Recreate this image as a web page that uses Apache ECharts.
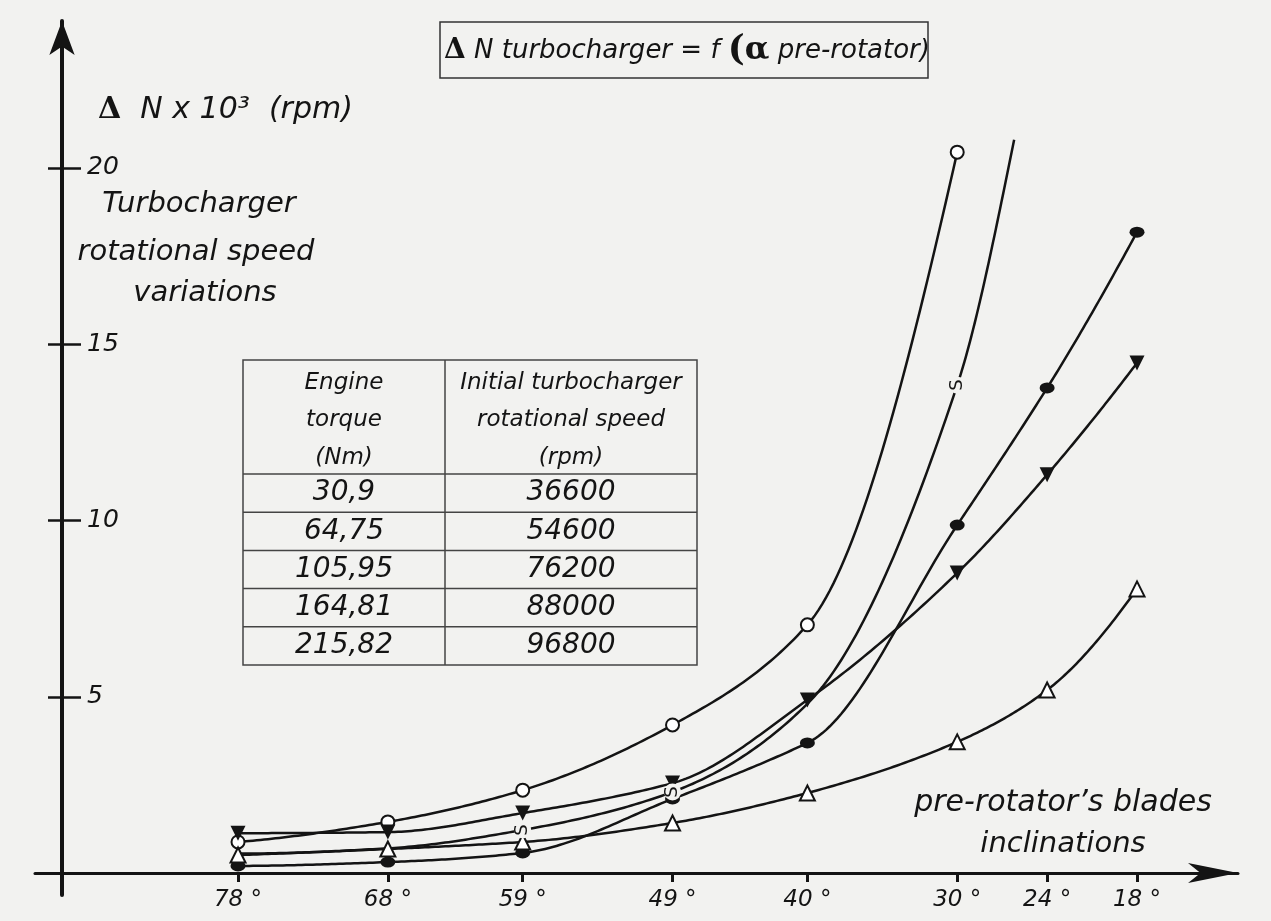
<!DOCTYPE html>
<html><head><meta charset="utf-8">
<script src="https://cdn.jsdelivr.net/npm/echarts@6/dist/echarts.min.js"></script>
<style>html,body{margin:0;padding:0;background:#f2f2f0}#c{width:1271px;height:921px}</style>
</head><body><div id="c"></div>
<script>
// ---- data ----
const angles = [78, 68, 59, 49, 40, 30, 24, 18];
const tickLabels = ['78 °', '68 °', '59 °', '49 °', '40 °', '30 °', '24 °', '18 °'];
const yTicks = [5, 10, 15, 20];
const openCircle = [0.88, 1.45, 2.35, 4.2, 7.04, 20.45, null, null];
const filledTriangle = [1.13, 1.16, 1.70, 2.55, 4.91, 8.51, 11.3, 14.47];
const filledCircle = [0.2, 0.31, 0.57, 2.1, 3.69, 9.87, 13.76, 18.18];
const openTriangle = [0.51, 0.68, 0.88, 1.42, 2.27, 3.72, 5.19, 8.06];
const sAngles = [78, 68, 59, 49, 40, 30, 26.2];
const sValues = [0.55, 0.7, 1.22, 2.3, 4.8, 13.84, 20.8];
const sMarked = [false, false, true, true, false, true, false];
const headerTorque = ['Engine', 'torque', '(Nm)'];
const headerSpeed = ['Initial turbocharger', 'rotational speed', '(rpm)'];
const torque = ['30,9', '64,75', '105,95', '164,81', '215,82'];
const initialSpeed = ['36600', '54600', '76200', '88000', '96800'];

// ---- styling ----
const BG = '#f2f2f0';
const INK = '#141414';
const FONT = 'DejaVu Sans';

function pairs(xs, ys) {
  const out = [];
  xs.forEach((x, i) => { if (ys[i] != null) out.push([x, ys[i]]); });
  return out;
}

// shape-preserving (PCHIP) cubic curve through pixel points, x monotone
function smoothPath(pts) {
  const n = pts.length;
  if (n < 2) return pts;
  const h = [], s = [];
  for (let i = 0; i < n - 1; i++) {
    h.push(pts[i + 1][0] - pts[i][0]);
    s.push((pts[i + 1][1] - pts[i][1]) / h[i]);
  }
  const m = new Array(n);
  for (let i = 1; i < n - 1; i++) {
    if (s[i - 1] * s[i] <= 0) { m[i] = 0; continue; }
    const w1 = 2 * h[i] + h[i - 1], w2 = h[i] + 2 * h[i - 1];
    m[i] = (w1 + w2) / (w1 / s[i - 1] + w2 / s[i]);
  }
  function endSlope(h0, h1, s0, s1) {
    let d = ((2 * h0 + h1) * s0 - h0 * s1) / (h0 + h1);
    if (d * s0 <= 0) d = 0;
    else if (s0 * s1 <= 0 && Math.abs(d) > 3 * Math.abs(s0)) d = 3 * s0;
    return d;
  }
  if (n === 2) { m[0] = s[0]; m[1] = s[0]; }
  else {
    m[0] = endSlope(h[0], h[1], s[0], s[1]);
    m[n - 1] = endSlope(h[n - 2], h[n - 3], s[n - 2], s[n - 3]);
  }
  // keep each piece free of spurious inflections
  for (let pass = 0; pass < 3; pass++) {
    for (let i = 0; i < n - 1; i++) {
      if (s[i] === 0) continue;
      let a = m[i] / s[i], b = m[i + 1] / s[i];
      if (a < 1 && b > 1 && 2 * a + b > 3) { b = 3 - 2 * a; m[i + 1] = b * s[i]; }
      if (a > 1 && b < 1 && a + 2 * b > 3) { a = 3 - 2 * b; m[i] = a * s[i]; }
    }
  }
  const out = [pts[0]];
  for (let i = 0; i < n - 1; i++) {
    const x0 = pts[i][0], y0 = pts[i][1], y1 = pts[i + 1][1];
    const N = 40;
    for (let j = 1; j <= N; j++) {
      const t = j / N, t2 = t * t, t3 = t2 * t;
      const h00 = 2 * t3 - 3 * t2 + 1, h10 = t3 - 2 * t2 + t, h01 = -2 * t3 + 3 * t2, h11 = t3 - t2;
      out.push([x0 + t * h[i], h00 * y0 + h10 * h[i] * m[i] + h01 * y1 + h11 * h[i] * m[i + 1]]);
    }
  }
  return out;
}

function curveSeries(name, xs, ys) {
  const data = pairs(xs, ys);
  return {
    name: name, type: 'custom', data: data, z: 2, silent: true, clip: false,
    encode: { x: 0, y: 1 },
    renderItem: function (params, api) {
      if (params.dataIndex !== 0) return null;
      const pts = data.map(d => api.coord(d));
      return { type: 'polyline', shape: { points: smoothPath(pts) },
               style: { stroke: INK, lineWidth: 2.5, fill: null } };
    }
  };
}
function markerSeries(name, vals, symbol, size, filled, rotate) {
  return {
    name, type: 'scatter', data: pairs(angles, vals), z: 3, silent: true,
    symbol, symbolSize: size, symbolRotate: rotate || 0,
    itemStyle: { color: filled ? INK : '#ffffff', borderColor: INK, borderWidth: filled ? 0 : 2, opacity: 1 }
  };
}

const sMarks = [];
sAngles.forEach((a, i) => { if (sMarked[i]) sMarks.push([a, sValues[i]]); });

const series = [
  curveSeries('open circle', angles, openCircle),
  curveSeries('filled triangle', angles, filledTriangle),
  curveSeries('filled circle', angles, filledCircle),
  curveSeries('open triangle', angles, openTriangle),
  curveSeries('S', sAngles, sValues),
  markerSeries('open circle marks', openCircle, 'circle', 13, false),
  markerSeries('filled triangle marks', filledTriangle, 'triangle', 15, true, 180),
  markerSeries('filled circle marks', filledCircle, 'circle', [15, 11], true),
  markerSeries('open triangle marks', openTriangle, 'triangle', 15, false),
  {
    name: 'S marks', type: 'scatter', data: sMarks, z: 3, silent: true,
    symbol: 'circle', symbolSize: 17,
    itemStyle: { color: BG, borderWidth: 0, opacity: 1 },
    label: { show: true, formatter: 'S', position: 'inside', rotate: 90,
             fontSize: 18, color: INK, fontFamily: FONT }
  }
];

// ---- table & annotations ----
const T = { x: 243, y: 360, w: 454, h: 305, col: 445, head: 474, row: 38.2 };
const graphics = [];
graphics.push({ type: 'rect', shape: { x: T.x, y: T.y, width: T.w, height: T.h },
  style: { fill: 'none', stroke: '#444', lineWidth: 1.5 } });
graphics.push({ type: 'line', shape: { x1: T.col, y1: T.y, x2: T.col, y2: T.y + T.h },
  style: { stroke: '#444', lineWidth: 1.5 } });
for (let i = 0; i < torque.length; i++) {
  const yy = T.head + i * T.row;
  graphics.push({ type: 'line', shape: { x1: T.x, y1: yy, x2: T.x + T.w, y2: yy },
    style: { stroke: '#444', lineWidth: 1.5 } });
}
function txt(text, x, y, size, align, rich) {
  return { type: 'text', x, y, style: { text, fontSize: size, fontStyle: 'italic', fontFamily: FONT,
    fill: INK, align: align || 'center', verticalAlign: 'middle', rich: rich } };
}
const c1 = (T.x + T.col) / 2, c2 = (T.col + T.x + T.w) / 2;
headerTorque.forEach((t, i) => graphics.push(txt(t, c1, 383 + i * 37.5, 23)));
headerSpeed.forEach((t, i) => graphics.push(txt(t, c2, 383 + i * 37.5, 23)));
torque.forEach((t, i) => graphics.push(txt(t, c1, T.head + (i + 0.5) * T.row, 28)));
initialSpeed.forEach((t, i) => graphics.push(txt(t, c2, T.head + (i + 0.5) * T.row, 28)));

// title box
graphics.push({ type: 'rect', shape: { x: 440, y: 22, width: 488, height: 56 },
  style: { fill: 'none', stroke: '#333', lineWidth: 1.5 } });
graphics.push(txt('{d|Δ} N turbocharger = f {p|(}{a|α} pre-rotator)', 444, 51, 26, 'left', {
  d: { fontSize: 28, fontWeight: 'bold', fontStyle: 'normal', fontFamily: 'DejaVu Serif', fill: INK },
  p: { fontSize: 36, fontWeight: 'bold', fontStyle: 'normal', fontFamily: 'DejaVu Serif', fill: INK },
  a: { fontSize: 32, fontWeight: 'bold', fontStyle: 'normal', fontFamily: 'DejaVu Serif', fill: INK }
}));
// y axis title
graphics.push(txt('{d|Δ}  N x 10³  (rpm)', 98, 110, 30, 'left', {
  d: { fontSize: 30, fontWeight: 'bold', fontStyle: 'normal', fontFamily: 'DejaVu Serif', fill: INK }
}));
graphics.push(txt('Turbocharger', 199, 204, 29));
graphics.push(txt('rotational speed', 196, 252, 29));
graphics.push(txt('variations', 205, 293, 29));
// x axis title
graphics.push(txt("pre-rotator’s blades", 1063, 803, 30));
graphics.push(txt('inclinations', 1063, 844, 29));

const labelFont = { fontSize: 23, fontStyle: 'italic', fontFamily: FONT, color: INK };

const option = {
  backgroundColor: BG,
  animation: false,
  grid: { left: 35, right: 33, top: 21, bottom: 26, containLabel: false, outerBoundsMode: 'none' },
  xAxis: {
    type: 'value', inverse: true, min: 11.26, max: 91.55,
    splitLine: { show: false },
    axisLine: { onZero: true, lineStyle: { color: INK, width: 3 },
      symbol: ['none', 'arrow'], symbolSize: [15, 50] },
    axisTick: { show: true, length: 9, lineStyle: { color: INK, width: 3 }, customValues: angles },
    axisLabel: Object.assign({ customValues: angles, margin: -6,
      formatter: v => tickLabels[angles.indexOf(v)] }, labelFont)
  },
  yAxis: [{
    type: 'value', min: -0.624, max: 24.17, offset: -27,
    splitLine: { show: false },
    axisLine: { lineStyle: { color: INK, width: 4 }, symbol: ['none', 'arrow'], symbolSize: [19, 34] },
    axisTick: { show: true, length: 14, lineStyle: { color: INK, width: 2.5 }, customValues: yTicks },
    axisLabel: Object.assign({ inside: true, margin: 25, customValues: yTicks }, labelFont, { fontSize: 25 })
  }, {
    type: 'value', min: -0.624, max: 24.17, offset: -27, position: 'left',
    splitLine: { show: false },
    axisLine: { show: false },
    axisTick: { show: true, inside: true, length: 19, lineStyle: { color: INK, width: 2.5 }, customValues: yTicks },
    axisLabel: { show: false }
  }],
  series,
  graphic: graphics
};
const chart = echarts.init(document.getElementById('c'));
chart.setOption(option);
</script></body></html>
